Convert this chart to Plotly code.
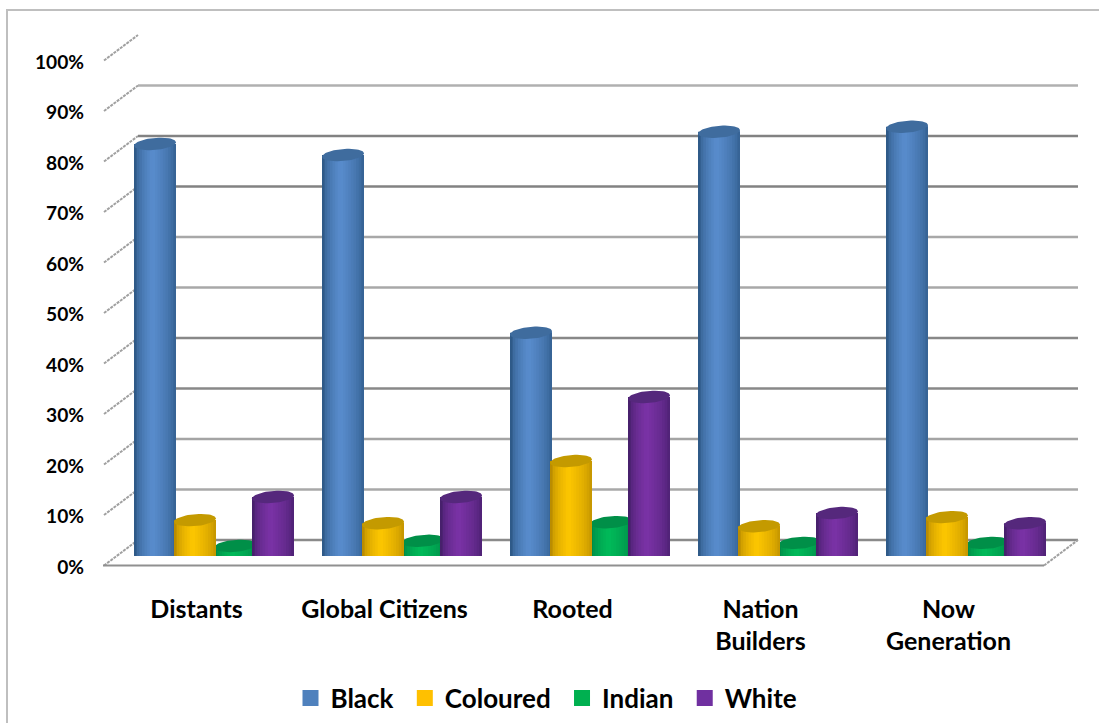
import numpy as np
import plotly.graph_objects as go

categories = ["Distants", "Global Citizens", "Rooted", "Nation<br>Builders", "Now<br>Generation"]
black = [81.6, 79.4, 44.2, 84.0, 85.0]
coloured = [7.1, 6.5, 18.8, 5.9, 7.7]
indian = [2.0, 3.0, 6.7, 2.6, 2.6]
white = [11.7, 11.7, 31.5, 8.5, 6.5]
pct_ticks = list(range(0, 101, 10))
pct_labels = [f"{t}%" for t in pct_ticks]

W, H = 1099, 723
FONT = "Lato"
# geometry of the fake 3D box, in page pixels
PX_PER_PCT = 5.05
FRONT_Y0, BACK_Y0, BAR_Y0 = 565.5, 540.0, 556.0
FRONT_X0, FRONT_X1 = 104.0, 1044.0
BACK_X0, BACK_X1 = 138.0, 1078.0
BAR_X0, BAR_X1 = 121.0, 1061.0
CAT_PX = (BAR_X1 - BAR_X0) / 5
BAR_W = 42.0
LABEL_DX, LABEL_DY = -1.5, 1.5

grid_colors = {0: "#8a8a8a", 10: "#a8a8a8", 20: "#a4a4a4", 30: "#888888", 40: "#888888",
               50: "#a8a8a8", 60: "#a8a8a8", 70: "#828282", 80: "#828282", 90: "#b0b0b0"}

# drawing order follows the reference overlaps
series = [
    dict(name="Black", y=black, off=-81, lo="#2f5a88", hi="#5a8ecf", cap="#3f6c9e", leg="#4f81bd"),
    dict(name="Indian", y=indian, off=-1, lo="#008445", hi="#00bc5a", cap="#008f48", leg="#00b050"),
    dict(name="Coloured", y=coloured, off=-41, lo="#bb8c00", hi="#ffc800", cap="#c49a00", leg="#ffc000"),
    dict(name="White", y=white, off=37, lo="#47206c", hi="#7c33a8", cap="#55287c", leg="#7030a0"),
]
legend_order = ["Black", "Coloured", "Indian", "White"]


def hex2rgb(c):
    return np.array([int(c[i:i + 2], 16) for i in (1, 3, 5)], float)


def ramp(lo, hi, t):
    c = hex2rgb(lo) + (hex2rgb(hi) - hex2rgb(lo)) * t
    return "rgb(%d,%d,%d)" % tuple(c)


fig = go.Figure()

# ---- page frame, walls (pixel axes, subplot 1: lowest layer)
frame_c = "#bfbfbf"
fig.add_trace(go.Scatter(x=[7, 7, W], y=[H, 10, 10], mode="lines", line=dict(color=frame_c, width=2),
                         hoverinfo="skip", showlegend=False))
for t in pct_ticks:
    by = BACK_Y0 - t * PX_PER_PCT
    fy = FRONT_Y0 - t * PX_PER_PCT
    fig.add_trace(go.Scatter(x=[FRONT_X0, BACK_X0], y=[fy, by], mode="lines",
                             line=dict(color="#a0a0a0", width=2, dash="3px,1px"),
                             hoverinfo="skip", showlegend=False))
    if t in grid_colors:
        fig.add_trace(go.Scatter(x=[BACK_X0, BACK_X1], y=[by, by], mode="lines",
                                 line=dict(color=grid_colors[t], width=2.5),
                                 hoverinfo="skip", showlegend=False))
fig.add_trace(go.Scatter(x=[FRONT_X0 - 1, FRONT_X1], y=[FRONT_Y0, FRONT_Y0], mode="lines",
                         line=dict(color="#909090", width=2), hoverinfo="skip", showlegend=False))
fig.add_trace(go.Scatter(x=[FRONT_X1, BACK_X1], y=[FRONT_Y0, BACK_Y0], mode="lines",
                         line=dict(color="#a0a0a0", width=2, dash="3px,1px"),
                         hoverinfo="skip", showlegend=False))

# ---- cylinders: one subplot per series so overlap order is controlled
N = 16
for i, s in enumerate(series):
    ax = i + 2
    xa, ya = f"x{ax}", f"y{ax}"
    n = len(s["y"])
    frac = np.arange(N) / N
    # dark edges, brightest a bit left of centre
    peak = 0.42
    shade = np.where(frac < peak, frac / peak, (1 - (frac + 0.5 / N)) / (1 - peak))
    shade = np.clip(shade, 0, 1) ** 0.55
    xs, ys, offs, wids, cols = [], [], [], [], []
    for j in range(N):
        for k in range(n):
            xs.append(k)
            ys.append(s["y"][k])
            left = s["off"] + frac[j] * BAR_W
            offs.append(left / CAT_PX)
            wids.append((BAR_W - frac[j] * BAR_W) / CAT_PX)
            cols.append(ramp(s["lo"], s["hi"], shade[j]))
    fig.add_trace(go.Bar(x=xs, y=ys, offset=offs, width=wids, xaxis=xa, yaxis=ya,
                         marker=dict(color=cols, line=dict(width=0)),
                         hoverinfo="skip", showlegend=False))
    th = np.linspace(0, 2 * np.pi, 60)
    for k in range(n):
        cx = k + (s["off"] + BAR_W / 2) / CAT_PX
        ex = (BAR_W / 2) * np.cos(th)
        ey = 6.0 * np.sin(th) + 0.08 * ex
        fig.add_trace(go.Scatter(x=cx + ex / CAT_PX, y=s["y"][k] + ey / PX_PER_PCT, mode="lines",
                                 fill="toself", fillcolor=s["cap"], line=dict(width=0, color=s["cap"]),
                                 xaxis=xa, yaxis=ya, hoverinfo="skip", showlegend=False))

# ---- axis labels carrier (front plane)
fig.add_trace(go.Scatter(x=[0], y=[0], mode="none", xaxis="x6", yaxis="y6", hoverinfo="skip", showlegend=False))

# ---- legend
by_name = {s["name"]: s for s in series}
for name in legend_order:
    fig.add_trace(go.Scatter(x=[None], y=[None], mode="markers", name=name + "\u00a0",
                             marker=dict(symbol="square", size=16, color=by_name[name]["leg"]),
                             xaxis="x6", yaxis="y6"))

layout = dict(
    width=W, height=H, margin=dict(l=0, r=0, t=0, b=0, autoexpand=False), paper_bgcolor="white",
    plot_bgcolor="rgba(0,0,0,0)",
    barmode="overlay", autosize=False, hovermode=False,
    font=dict(family=FONT, color="#000000"),
    xaxis=dict(domain=[0, 1], range=[0, W], visible=False, fixedrange=True),
    yaxis=dict(domain=[0, 1], range=[H, 0], visible=False, fixedrange=True),
    legend=dict(orientation="h", x=0.5, xanchor="center", y=0.002, yanchor="bottom",
                font=dict(family=FONT, size=26, color="#000000", weight="bold"),
                bgcolor="rgba(0,0,0,0)", itemclick=False, itemdoubleclick=False),
)
bar_dom = [(H - BAR_Y0) / H, (H - (BAR_Y0 - 100 * PX_PER_PCT)) / H]
for i in range(len(series)):
    ax = i + 2
    layout[f"xaxis{ax}"] = dict(domain=[BAR_X0 / W, BAR_X1 / W], range=[-0.5, 4.5], visible=False,
                                anchor=f"y{ax}", fixedrange=True)
    layout[f"yaxis{ax}"] = dict(domain=bar_dom, range=[0, 100], visible=False, anchor=f"x{ax}", fixedrange=True)
layout["xaxis6"] = dict(domain=[(FRONT_X0 + LABEL_DX) / W, (FRONT_X1 + LABEL_DX) / W], range=[-0.5, 4.5],
                        anchor="y6", fixedrange=True,
                        tickmode="array", tickvals=list(range(5)), ticktext=categories,
                        ticks="outside", ticklen=19.5, tickcolor="rgba(0,0,0,0)", showgrid=False, zeroline=False,
                        showline=False, tickangle=0,
                        tickfont=dict(family=FONT, size=25, color="#000000", weight="bold"))
layout["yaxis6"] = dict(domain=[(H - FRONT_Y0 - LABEL_DY) / H, (H - (FRONT_Y0 + LABEL_DY - 100 * PX_PER_PCT)) / H],
                        range=[0, 100], anchor="free", position=84 / W, side="left", fixedrange=True,
                        tickmode="array", tickvals=pct_ticks, ticktext=pct_labels,
                        ticks="", showgrid=False, zeroline=False, showline=False,
                        tickfont=dict(family=FONT, size=19.2, color="#000000", weight="bold"))
fig.update_layout(**layout)

fig.write_html("out.html", config={"displayModeBar": False},
               post_script="document.body.style.margin='0';document.body.style.overflow='hidden';")
